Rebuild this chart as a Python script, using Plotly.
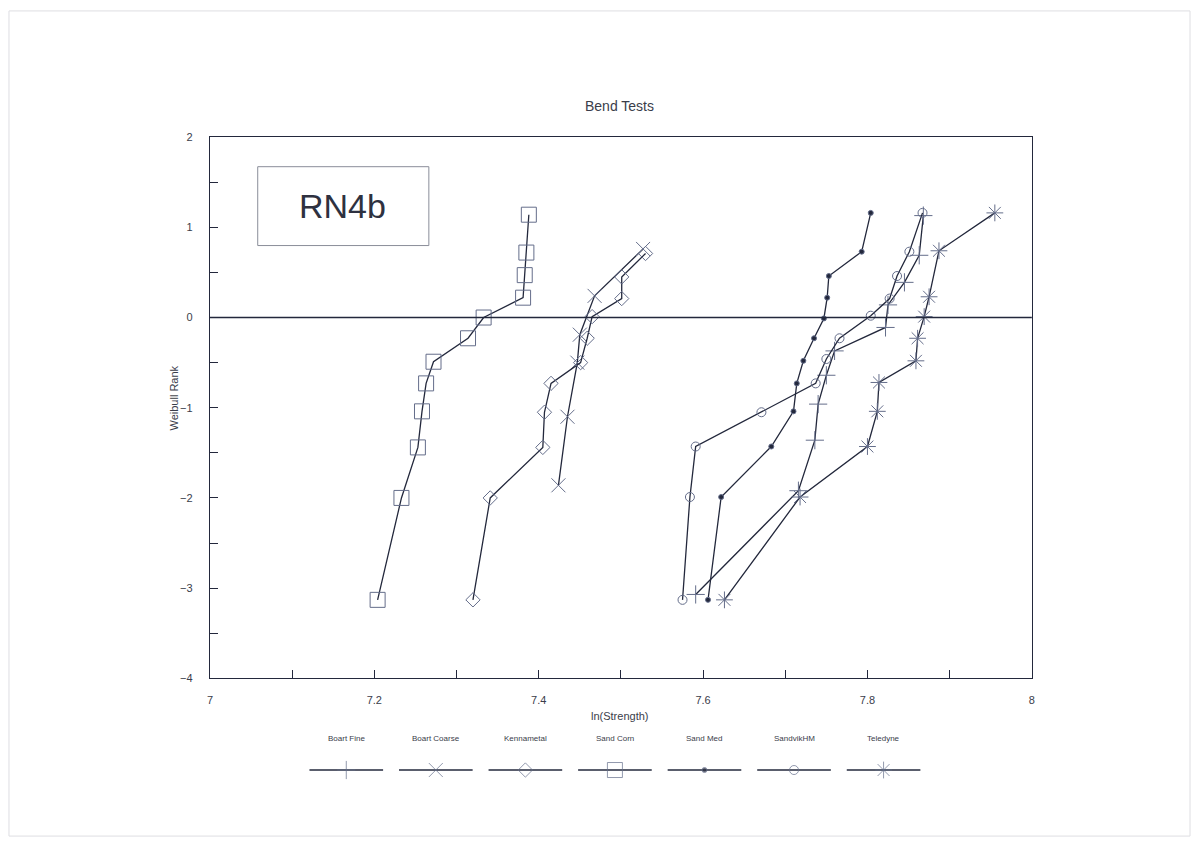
import plotly.graph_objects as go

# ---- data: ln(strength) vs Weibull rank for each material ----
series_names = ["Boart Fine", "Boart Coarse", "Kennametal", "Sand Corn",
                "Sand Med", "SandvikHM", "Teledyne"]

boart_fine_x = [7.591, 7.716, 7.736, 7.740, 7.750, 7.760, 7.822, 7.825, 7.845, 7.863, 7.868]
boart_fine_y = [-3.07, -1.92, -1.36, -0.96, -0.64, -0.37, -0.11, 0.14, 0.39, 0.69, 1.13]

boart_coarse_x = [7.424, 7.435, 7.447, 7.450, 7.468, 7.527]
boart_coarse_y = [-1.86, -1.10, -0.50, -0.19, 0.24, 0.76]

kennametal_x = [7.320, 7.341, 7.405, 7.407, 7.415, 7.451, 7.459, 7.465, 7.501, 7.501, 7.530]
kennametal_y = [-3.13, -2.00, -1.44, -1.05, -0.73, -0.50, -0.23, 0.01, 0.21, 0.45, 0.71]

sand_corn_x = [7.204, 7.233, 7.253, 7.258, 7.263, 7.272, 7.314, 7.333, 7.381, 7.383, 7.385, 7.388]
sand_corn_y = [-3.13, -2.00, -1.44, -1.04, -0.73, -0.49, -0.23, 0.00, 0.22, 0.47, 0.72, 1.14]

sand_med_x = [7.606, 7.622, 7.683, 7.710, 7.714, 7.722, 7.735, 7.747, 7.751, 7.753, 7.793, 7.804]
sand_med_y = [-3.13, -1.99, -1.43, -1.04, -0.73, -0.48, -0.23, -0.01, 0.22, 0.46, 0.73, 1.16]

sandvik_x = [7.575, 7.584, 7.591, 7.671, 7.737, 7.750, 7.766, 7.804, 7.827, 7.836, 7.851, 7.867]
sandvik_y = [-3.13, -1.99, -1.43, -1.05, -0.73, -0.46, -0.23, 0.02, 0.21, 0.46, 0.73, 1.16]

teledyne_x = [7.626, 7.718, 7.800, 7.812, 7.814, 7.859, 7.861, 7.869, 7.875, 7.887, 7.955]
teledyne_y = [-3.13, -1.99, -1.43, -1.04, -0.72, -0.48, -0.23, 0.01, 0.23, 0.74, 1.16]

xs = [boart_fine_x, boart_coarse_x, kennametal_x, sand_corn_x, sand_med_x, sandvik_x, teledyne_x]
ys = [boart_fine_y, boart_coarse_y, kennametal_y, sand_corn_y, sand_med_y, sandvik_y, teledyne_y]

# ---- styling ----
W, H = 1199, 847
FONT = "Liberation Sans, Arial, sans-serif"
LINE_C = "#23283c"
MARK_C = "#646d8a"
TEXT_C = "#3a3d4a"

symbols = ["cross-thin-open", "x-thin-open", "diamond-open", "square-open",
           "circle", "circle-open", "asterisk-open"]
sizes = [13, 14, 11, 15, 5, 9, 14]
mark_fill = [MARK_C, MARK_C, MARK_C, MARK_C, LINE_C, MARK_C, MARK_C]

# plot area in page pixels
PL, PR, PT, PB = 208, 1034, 133, 682


def px(x):
    return x / W


def py(y):
    return 1 - y / H


fig = go.Figure()

for name, x, y, sym, sz, mc in zip(series_names, xs, ys, symbols, sizes, mark_fill):
    fig.add_trace(go.Scatter(
        x=x, y=y, name=name, mode="lines+markers",
        line=dict(color=LINE_C, width=1.3),
        marker=dict(symbol=sym, size=sz, color=mc,
                    line=dict(color=MARK_C, width=1)),
        showlegend=False, xaxis="x", yaxis="y",
    ))

# ---- custom legend: label above a short line sample ----
leg_y = 775
leg_x0 = 345
leg_step = 90
annotations = []
for i, (name, sym, sz, mc) in enumerate(zip(series_names, symbols, sizes, mark_fill)):
    cx = leg_x0 + i * leg_step
    fig.add_trace(go.Scatter(
        x=[cx - 37, cx, cx + 37], y=[leg_y, leg_y, leg_y],
        mode="lines+markers",
        line=dict(color=LINE_C, width=1.3),
        marker=dict(symbol=sym, size=[0, sz, 0], color=mc,
                    line=dict(color=MARK_C, width=[0, 1, 0])),
        showlegend=False, hoverinfo="skip", xaxis="x2", yaxis="y2",
    ))
    annotations.append(dict(
        x=px(cx), y=py(743), xref="paper", yref="paper", text=name,
        showarrow=False, font=dict(family=FONT, size=8, color=TEXT_C),
        xanchor="center", yanchor="middle"))

annotations += [
    dict(x=px(620), y=py(101), xref="paper", yref="paper", text="Bend Tests",
         xanchor="center", yanchor="middle",
         showarrow=False, font=dict(family=FONT, size=14, color=TEXT_C)),
    dict(x=px(172), y=py(398), xref="paper", yref="paper", text="Weibull Rank",
         xanchor="center", yanchor="middle",
         textangle=-90, showarrow=False, font=dict(family=FONT, size=11, color=TEXT_C)),
    dict(x=px(620), y=py(720), xref="paper", yref="paper", text="ln(Strength)",
         xanchor="center", yanchor="middle",
         showarrow=False, font=dict(family=FONT, size=11, color=TEXT_C)),
    dict(x=px(341), y=py(203), xref="paper", yref="paper", text="RN4b",
         xanchor="center", yanchor="middle",
         showarrow=False, font=dict(family=FONT, size=34, color="#2e3140")),
]

shapes = [
    # zero reference line
    dict(type="line", xref="x domain", yref="y", x0=0, x1=1, y0=0, y1=0,
         line=dict(color=LINE_C, width=1.4)),
    # label box
    dict(type="rect", xref="paper", yref="paper",
         x0=px(256), x1=px(428), y0=py(163), y1=py(243),
         line=dict(color="#8a8d99", width=1)),
    # page frame
    dict(type="rect", xref="paper", yref="paper",
         x0=px(6), x1=px(1193), y0=py(5), y1=py(842),
         line=dict(color="#dedee2", width=1)),
]

axis_font = dict(family=FONT, size=11, color=TEXT_C)
fig.update_layout(
    width=W, height=H,
    margin=dict(l=0, r=0, t=0, b=0),
    paper_bgcolor="white", plot_bgcolor="rgba(0,0,0,0)",
    showlegend=False,
    annotations=annotations, shapes=shapes,
    xaxis=dict(
        domain=[px(PL), px(PR)], range=[7, 8], anchor="y",
        tick0=7, dtick=0.2, ticks="inside", ticklen=8, tickcolor=LINE_C,
        minor=dict(dtick=0.1, ticks="inside", ticklen=8, tickcolor=LINE_C),
        showgrid=False, zeroline=False,
        showline=True, linecolor=LINE_C, linewidth=1.3, mirror=True,
        tickfont=axis_font, ticklabelstandoff=11,
    ),
    yaxis=dict(
        domain=[1 - PB / H, 1 - PT / H], range=[-4, 2], anchor="x",
        tick0=-4, dtick=1, ticks="inside", ticklen=8, tickcolor=LINE_C,
        minor=dict(dtick=0.5, ticks="inside", ticklen=8, tickcolor=LINE_C),
        showgrid=False, zeroline=False,
        showline=True, linecolor=LINE_C, linewidth=1.3, mirror=True,
        tickfont=axis_font, ticklabelstandoff=14,
    ),
    xaxis2=dict(domain=[0, 1], range=[0, W], anchor="y2", visible=False,
                fixedrange=True),
    yaxis2=dict(domain=[0, 0.16], range=[H, H - 0.16 * H], anchor="x2",
                visible=False, fixedrange=True),
)

fig.write_html("out.html")
